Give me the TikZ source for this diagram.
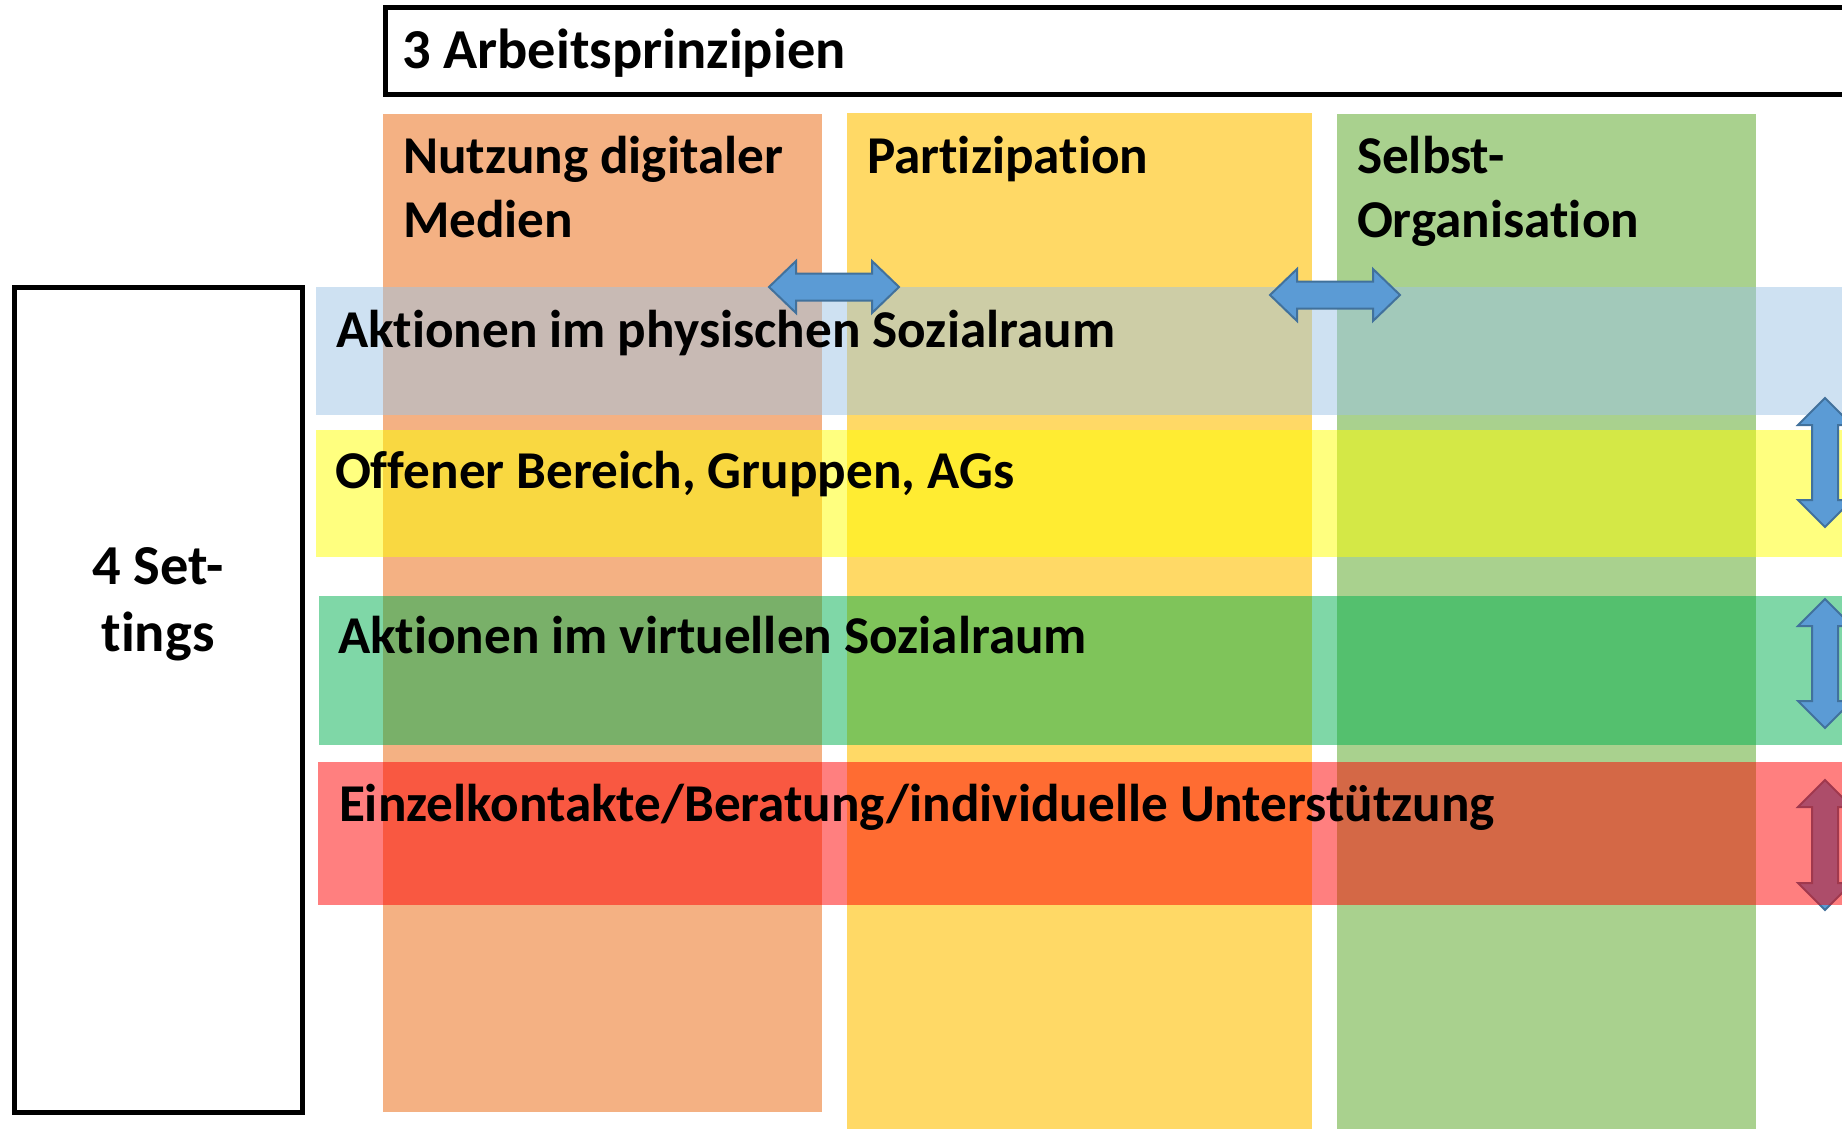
\documentclass[tikz,border=0pt]{standalone}
\usepackage{fontspec}
\setmainfont{Carlito}[Ligatures={NoCommon,NoRequired,NoContextual}]
\definecolor{colA}{HTML}{F4B183}
\definecolor{colB}{HTML}{FFD966}
\definecolor{colC}{HTML}{A9D18E}
\definecolor{rowA}{HTML}{9DC3E6}
\definecolor{rowB}{HTML}{FFFF00}
\definecolor{rowC}{HTML}{00B050}
\definecolor{rowD}{HTML}{FF0000}
\definecolor{arrfill}{HTML}{5B9BD5}
\definecolor{arrline}{HTML}{41719C}
\tikzset{
  lbl/.style={inner sep=0pt, outer sep=0pt, font=\fontsize{26.6}{32}\selectfont\bfseries, text=black},
  biglbl/.style={lbl, font=\fontsize{28.2}{34}\selectfont\bfseries},
  rowband/.style={opacity=0.5},
  frame/.style={draw=black, line width=2.5pt, fill=white},
  dblarrow/.style={fill=arrfill, draw=arrline, line width=1pt, line join=miter},
}
\newcommand{\hdblarrow}[3]{%
  \path[dblarrow] (#1,#3) -- ({#1+27},{#3-26}) -- ({#1+27},{#3-13.5}) -- ({#2-27},{#3-13.5}) -- ({#2-27},{#3-26}) -- (#2,#3) -- ({#2-27},{#3+26}) -- ({#2-27},{#3+13.5}) -- ({#1+27},{#3+13.5}) -- ({#1+27},{#3+26}) -- cycle;}
\newcommand{\vdblarrow}[3]{%
  \path[dblarrow] (#1,#2) -- ({#1+27},{#2+27}) -- ({#1+13},{#2+27}) -- ({#1+13},{#3-27}) -- ({#1+27},{#3-27}) -- (#1,#3) -- ({#1-27},{#3-27}) -- ({#1-13},{#3-27}) -- ({#1-13},{#2+27}) -- ({#1-27},{#2+27}) -- cycle;}
\begin{document}
\begin{tikzpicture}[x=0.5pt, y=-0.5pt]
\useasboundingbox (0,0) rectangle (1842,1129);
\clip (0,0) rectangle (1842,1129);
% title box
\draw[frame] (385,7.5) rectangle (1900,95);
\node[biglbl, anchor=base west] (title) at (402,69) {3 Arbeitsprinzipien};
% settings box
\draw[frame] (14.5,287) rectangle (302.5,1112.5);
\node[biglbl, anchor=base] (set1) at (158,584) {4 Set-};
\node[biglbl, anchor=base] (set2) at (158,651) {tings};
% columns
\fill[colA] (383,114) rectangle (822,1112);
\fill[colB] (847,113) rectangle (1312,1140);
\fill[colC] (1337,114) rectangle (1756,1140);
\node[lbl, anchor=base west] (c1a) at (403,174) {Nutzung digitaler};
\node[lbl, anchor=base west] (c1b) at (403,237) {Medien};
\node[lbl, anchor=base west] (c2a) at (867,174) {Partizipation};
\node[lbl, anchor=base west] (c3a) at (1357,173) {Selbst-};
\node[lbl, anchor=base west] (c3b) at (1357,237) {Organisation};
% rows
\fill[rowA, rowband] (316,287) rectangle (1900,415);
\fill[rowB, rowband] (316,430) rectangle (1900,557);
\fill[rowC, rowband] (319,596) rectangle (1900,745);
% arrows
\hdblarrow{769}{899}{287}
\hdblarrow{1270}{1400}{295}
\vdblarrow{1825}{398}{527}
\vdblarrow{1825}{599}{728}
\vdblarrow{1825}{780}{910}
\fill[rowD, rowband] (318,762) rectangle (1900,905);
% row labels
\node[lbl, anchor=base west] (r1) at (336,347) {Aktionen im physischen Sozialraum};
\node[lbl, anchor=base west] (r2) at (335,488) {Offener Bereich, Gruppen, AGs};
\node[lbl, anchor=base west] (r3) at (338,653) {Aktionen im virtuellen Sozialraum};
\node[lbl, anchor=base west] (r4) at (339,821) {Einzelkontakte/Beratung/individuelle Unterstützung};
\end{tikzpicture}
\end{document}
